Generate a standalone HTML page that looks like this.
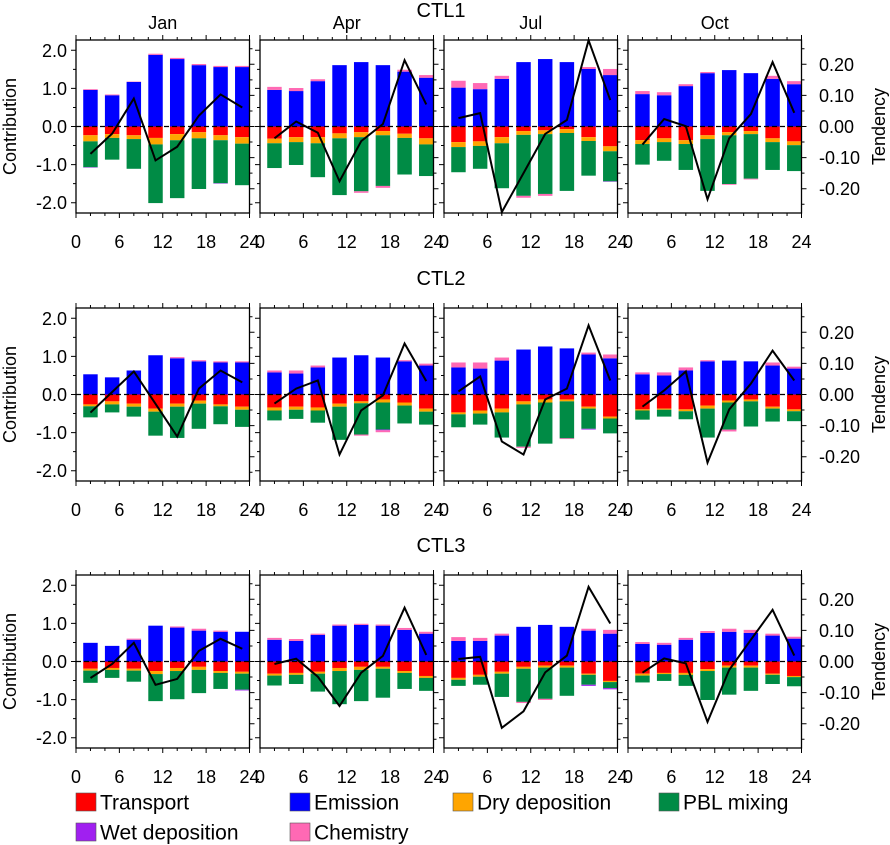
<!DOCTYPE html>
<html><head><meta charset="utf-8">
<style>
html,body{margin:0;padding:0;background:#fff;}
svg{display:block;font-family:"Liberation Sans",Arial,sans-serif;}
</style></head>
<body>
<svg id="chart" width="890" height="845" viewBox="0 0 890 845" xmlns="http://www.w3.org/2000/svg"></svg>
<script>
// ---------- data ----------
const rowNames = ["CTL1","CTL2","CTL3"];
const months = ["Jan","Apr","Jul","Oct"];
const hours = [2,5,8,11,14,17,20,23];
const xTicks = [0,6,12,18,24];
const yTickLabels = ["2.0","1.0","0.0","-1.0","-2.0"];
const yTickVals = [2,1,0,-1,-2];
const rTickLabels = ["0.20","0.10","0.00","-0.10","-0.20"];
const rTickVals = [0.2,0.1,0,-0.1,-0.2];

// [row][month][bar]
const emission = [
 [[0.96,0.82,1.17,1.88,1.77,1.61,1.56,1.56],[0.96,0.93,1.19,1.61,1.69,1.61,1.44,1.28],[1.02,0.98,1.25,1.69,1.77,1.69,1.51,1.35],[0.85,0.82,1.06,1.40,1.48,1.40,1.25,1.11]],
 [[0.53,0.45,0.63,1.03,0.95,0.87,0.84,0.84],[0.58,0.55,0.71,0.97,1.03,0.97,0.87,0.76],[0.71,0.68,0.89,1.18,1.26,1.21,1.05,0.95],[0.53,0.50,0.63,0.87,0.89,0.87,0.76,0.68]],
 [[0.49,0.41,0.57,0.94,0.89,0.81,0.78,0.78],[0.57,0.54,0.70,0.94,0.96,0.94,0.83,0.73],[0.54,0.54,0.68,0.91,0.96,0.91,0.81,0.73],[0.46,0.44,0.57,0.75,0.78,0.75,0.68,0.60]]
];
const chemistry = [
 [[0.02,0.02,0.01,0.03,0.03,0.03,0.03,0.03],[0.08,0.08,0.05,0,-0.04,-0.05,0.05,0.07],[0.18,0.16,0.08,-0.05,-0.05,0,0.05,0.16],[0.08,0.08,0.05,0.03,-0.02,-0.02,0.08,0.08]],
 [[0,0,0,0,0.03,0.03,0.03,0.03],[0.05,0.08,0.05,0,-0.03,-0.05,0.03,0.05],[0.13,0.16,0.08,-0.03,0,-0.02,0.05,0.10],[0.05,0.08,0.08,0.03,-0.05,0,0.08,0.05]],
 [[0,0,0.03,0,0.03,0.05,0.03,0],[0.05,0.05,0.03,0.03,0.03,0.03,0.05,0.05],[0.10,0.08,0.05,-0.03,-0.03,0,0.05,0.10],[0.05,0.05,0.05,0.05,0.08,0.08,0.05,0.05]]
];
const transport = [
 [[-0.23,-0.20,-0.23,-0.30,-0.20,-0.15,-0.23,-0.28],[-0.32,-0.28,-0.28,-0.18,-0.15,-0.12,-0.19,-0.31],[-0.41,-0.39,-0.28,-0.12,-0.10,-0.07,-0.28,-0.52],[-0.36,-0.31,-0.36,-0.23,-0.15,-0.12,-0.31,-0.39]],
 [[-0.26,-0.18,-0.24,-0.37,-0.24,-0.16,-0.26,-0.32],[-0.34,-0.32,-0.34,-0.24,-0.18,-0.13,-0.21,-0.37],[-0.47,-0.42,-0.37,-0.18,-0.13,-0.13,-0.32,-0.58],[-0.39,-0.37,-0.39,-0.29,-0.16,-0.13,-0.32,-0.39]],
 [[-0.19,-0.17,-0.19,-0.25,-0.17,-0.14,-0.25,-0.27],[-0.32,-0.30,-0.27,-0.17,-0.14,-0.14,-0.25,-0.38],[-0.43,-0.35,-0.27,-0.14,-0.11,-0.11,-0.32,-0.51],[-0.32,-0.30,-0.30,-0.20,-0.11,-0.11,-0.32,-0.38]]
];
const dryDep = [
 [[-0.16,-0.10,-0.10,-0.17,-0.16,-0.16,-0.13,-0.17],[-0.12,-0.13,-0.16,-0.13,-0.13,-0.11,-0.11,-0.16],[-0.13,-0.12,-0.16,-0.10,-0.10,-0.10,-0.10,-0.13],[-0.10,-0.10,-0.10,-0.10,-0.08,-0.08,-0.10,-0.10]],
 [[-0.05,-0.08,-0.08,-0.08,-0.08,-0.08,-0.05,-0.08],[-0.08,-0.08,-0.08,-0.08,-0.05,-0.08,-0.08,-0.08],[-0.05,-0.08,-0.10,-0.08,-0.08,-0.05,-0.05,-0.05],[-0.03,-0.03,-0.05,-0.08,-0.05,-0.05,-0.05,-0.05]],
 [[-0.05,-0.05,-0.05,-0.08,-0.08,-0.08,-0.05,-0.05],[-0.05,-0.05,-0.05,-0.08,-0.08,-0.05,-0.05,-0.05],[-0.05,-0.05,-0.05,-0.05,-0.05,-0.05,-0.03,-0.03],[-0.05,-0.03,-0.05,-0.05,-0.05,-0.05,-0.03,-0.03]]
];
const pblMixing = [
 [[-0.68,-0.57,-0.78,-1.54,-1.52,-1.33,-1.13,-1.09],[-0.65,-0.60,-0.89,-1.49,-1.42,-1.33,-0.96,-0.83],[-0.66,-0.60,-1.18,-1.60,-1.57,-1.52,-0.91,-0.79],[-0.54,-0.49,-0.68,-1.36,-1.28,-1.17,-0.73,-0.68]],
 [[-0.29,-0.21,-0.26,-0.63,-0.82,-0.66,-0.47,-0.45],[-0.26,-0.24,-0.32,-0.87,-0.82,-0.71,-0.47,-0.34],[-0.34,-0.29,-0.66,-1.11,-1.08,-0.97,-0.53,-0.39],[-0.24,-0.18,-0.21,-0.76,-0.71,-0.66,-0.34,-0.26]],
 [[-0.32,-0.21,-0.29,-0.71,-0.74,-0.61,-0.42,-0.42],[-0.26,-0.24,-0.47,-0.87,-0.82,-0.76,-0.42,-0.34],[-0.16,-0.21,-0.61,-0.87,-0.82,-0.74,-0.26,-0.16],[-0.18,-0.18,-0.29,-0.76,-0.71,-0.61,-0.24,-0.24]]
];
const wetDep = [
 [[-0.01,0,0,0,0,0,-0.01,0],[0,0,0,0,0,0,0,0],[0,0,0,0,0,0,0,-0.01],[0,0,0,0,0,0,0,0]],
 [[0,0,0,0,0,0,0,0],[0,0,0,0,0,-0.02,0,0],[0,0,0,0,0,0,-0.02,0],[0,0,0,0,0,0,0,0]],
 [[0,0,0,0,0,0,0,-0.02],[0,0,0,0,0,0,0,0],[0,0,0,0,0,0,-0.03,-0.03],[0,0,0,0,0,0,0,0]]
];
const tendency = [
 [[-0.088,-0.023,0.090,-0.109,-0.065,0.035,0.103,0.061],[-0.038,0.016,-0.020,-0.176,-0.047,0.008,0.213,0.071],[0.027,0.043,-0.275,-0.150,-0.024,0.021,0.277,0.085],[-0.058,0.024,0.001,-0.234,-0.038,0.040,0.207,0.044]],
 [[-0.058,0.008,0.074,-0.030,-0.135,0.019,0.077,0.039],[-0.029,0.019,0.045,-0.193,-0.051,-0.003,0.164,0.043],[0.010,0.058,-0.151,-0.193,-0.016,0.019,0.222,0.045],[-0.039,0.013,0.074,-0.219,-0.048,0.035,0.141,0.045]],
 [[-0.053,-0.008,0.060,-0.075,-0.056,0.034,0.073,0.041],[-0.008,0.009,-0.049,-0.143,-0.036,0.018,0.173,0.021],[0.008,0.015,-0.213,-0.160,-0.035,0.019,0.240,0.122],[-0.036,0.010,-0.006,-0.194,-0.027,0.070,0.166,0.019]]
];
const legendLabels = ["Transport","Emission","Dry deposition","PBL mixing","Wet deposition","Chemistry"];

// ---------- styling / geometry ----------
const C = {tr:"#ff0000",em:"#0000ff",dry:"#ffa500",pbl:"#008b45",wet:"#a020f0",chem:"#ff69b4"};
const legendColors = [C.tr,C.em,C.dry,C.pbl,C.wet,C.chem];
const NS = "http://www.w3.org/2000/svg";
const svg = document.getElementById("chart");
const PW = 173.5, PH = 173, YMAX = 2.27, RMAX = 0.278;
function mk(tag, attrs, parent){ const e=document.createElementNS(NS,tag); for(const k in attrs) e.setAttribute(k,attrs[k]); (parent||svg).appendChild(e); return e; }
function txt(s, attrs, parent){ const e=mk("text",attrs,parent); e.textContent=s; return e; }

for(let r=0;r<3;r++){
  const zeroY = 126.5 + [0,268,535][r];
  const top = zeroY - PH/2;
  const rt = txt(rowNames[r],{x:441,y:top-23,"text-anchor":"middle","font-size":20});
  
  
  for(let m=0;m<4;m++){
    const x0 = 76 + m*184;
    const g = mk("g",{});
    
    
    const xs = h => x0 + h/24*PW;
    const ys = v => zeroY - v/YMAX*(PH/2);
    const yr = v => zeroY - v/RMAX*(PH/2);
    if(r===0){
      const mt = txt(months[m],{x:x0+PW/2,y:29,"text-anchor":"middle","font-size":18},g);
      
      
    }
    for(let i=0;i<hours.length;i++){
      const bx = xs(hours[i]-1), bw = xs(hours[i]+1)-bx;
      let pos=0, neg=0;
      const segs = [[emission[r][m][i],C.em,'emission'],[chemistry[r][m][i]>0?chemistry[r][m][i]:0,C.chem,'chemistry'],
        [transport[r][m][i],C.tr,'transport'],[dryDep[r][m][i],C.dry,'dry-deposition'],[pblMixing[r][m][i],C.pbl,'pbl-mixing'],
        [wetDep[r][m][i],C.wet,'wet-deposition'],[chemistry[r][m][i]<0?chemistry[r][m][i]:0,C.chem,'chemistry']];
      for(const [v,col,nm] of segs){
        if(!v) continue;
        let a,b;
        if(v>0){a=pos;b=pos+v;pos=b;} else {a=neg;b=neg+v;neg=b;}
        const y1=ys(Math.max(a,b)), y2=ys(Math.min(a,b));
        const rc = mk("rect",{x:bx.toFixed(2),y:y1.toFixed(2),width:bw.toFixed(2),height:(y2-y1).toFixed(2),fill:col},g);
        
        
      }
    }
    const zl = mk("line",{x1:x0,x2:x0+PW,y1:zeroY,y2:zeroY,stroke:"#000","stroke-width":1.3,"stroke-dasharray":"5,3"},g);
    
    
    const pts = hours.map((h,i)=>xs(h).toFixed(2)+","+Math.max(top,Math.min(top+PH,yr(tendency[r][m][i]))).toFixed(2)).join(" ");
    const pl = mk("polyline",{points:pts,fill:"none",stroke:"#000","stroke-width":2,"stroke-linejoin":"miter"},g);
    
    
    const fr = mk("rect",{x:x0,y:top,width:PW,height:PH,fill:"none",stroke:"#000","stroke-width":1.3},g);
    
    
    let d="";
    for(let h=0;h<=24;h+=2){ const L=(h%6===0)?5:3; const x=xs(h); d+=`M${x},${top+PH}v${L}M${x},${top}v${-L}`; }
    for(let v=-2;v<=2.001;v+=0.5){ const L=(Math.abs(v%1)<0.01)?5:3; const y=ys(v); d+=`M${x0},${y}h${-L}`; }
    for(let k=-5;k<=5;k++){ const v=k*0.05; const L=(k%2===0)?5:3; const y=yr(v); d+=`M${x0+PW},${y}h${L}`; }
    const tk = mk("path",{d:d,stroke:"#000","stroke-width":1,fill:"none"},g);
    
    
    xTicks.forEach(t=>{
      const e = txt(String(t),{x:xs(t),y:top+PH+35,"text-anchor":"middle","font-size":18},g);
      
      
    });
    if(m===0){
      yTickVals.forEach((v,i)=>{
        const e = txt(yTickLabels[i],{x:x0-9,y:ys(v)+6.5,"text-anchor":"end","font-size":18},g);
        
        
      });
      const yt = txt("Contribution",{x:0,y:0,"text-anchor":"middle","font-size":18,transform:`translate(16,${zeroY}) rotate(-90)`},g);
      
      
    }
    if(m===3){
      rTickVals.forEach((v,i)=>{
        const e = txt(rTickLabels[i],{x:819,y:yr(v)+6.5,"text-anchor":"start","font-size":18},g);
        
        
      });
      const rtt = txt("Tendency",{x:0,y:0,"text-anchor":"middle","font-size":18,transform:`translate(885,${zeroY}) rotate(-90)`},g);
      
      
    }
  }
}
const legX = [76,290,453,659,76,290];
legendLabels.forEach((lab,i)=>{
  const g = mk("g",{});
  
  
  const y = i<4?802:832;
  mk("rect",{x:legX[i],y:y-9,width:20,height:18,fill:legendColors[i],stroke:"#555","stroke-width":0.6},g);
  txt(lab,{x:legX[i]+24,y:y+7.5,"font-size":21},g);
});
</script>
</body></html>
